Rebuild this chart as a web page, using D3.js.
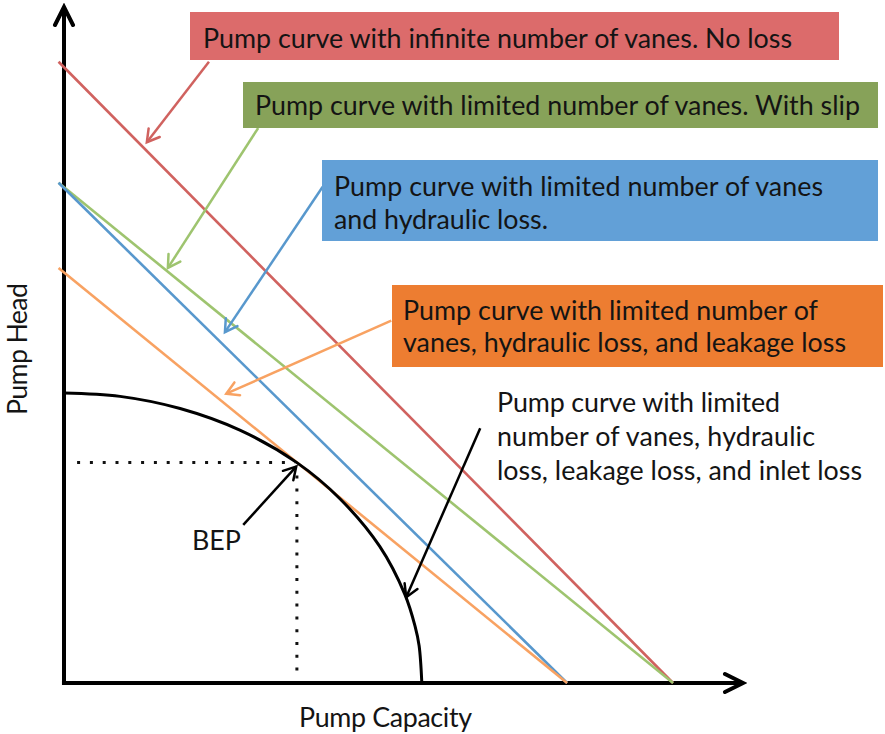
<!DOCTYPE html>
<html>
<head>
<meta charset="utf-8">
<script src="https://cdn.jsdelivr.net/npm/d3@7"></script>
<style>
  html, body { margin: 0; padding: 0; background: #fff; }
  svg { display: block; font-family: Lato, "Open Sans", sans-serif; }
  .lbl { font-size: 21.5px; font-weight: 400; fill: #141414; }
</style>
</head>
<body>
<div id="chart"></div>
<script>
// ── Data (chart units: capacity 0–100 across, head 0–100 up) ─────────────────
const noLossCurve    = [[-0.8, 91.9], [89.7, 0]];
const slipCurve      = [[-0.8, 74.0], [89.7, 0]];
const hydraulicCurve = [[-0.8, 74.0], [74.1, 0]];
const leakageCurve   = [[-0.8, 61.4], [74.1, 0]];
const inletCurve = [
  [0, 42.9], [8.25, 42.4], [17.1, 40.6], [25.9, 37.4], [34.3, 32.6],
  [40.6, 27.3], [46.5, 20.2], [50.2, 13.1], [51.7, 8.4], [52.3, 5.5], [52.7, 0]
];
const bepPoint = [34.3, 32.6];

const noLossText    = ['Pump curve with infinite number of vanes. No loss'];
const slipText      = ['Pump curve with limited number of vanes. With slip'];
const hydraulicText = ['Pump curve with limited number of vanes', 'and hydraulic loss.'];
const leakageText   = ['Pump curve with limited number of', 'vanes, hydraulic loss, and leakage loss'];
const inletText     = ['Pump curve with limited', 'number of vanes, hydraulic', 'loss, leakage loss, and inlet loss'];
const xTitle = 'Pump Capacity';
const yTitle = 'Pump Head';
const bepText = 'BEP';

// arrow tail → head, in chart units
const noLossArrow    = [[21.35, 91.9], [12.2, 80.0]];
const slipArrow      = [[28.6, 82.1], [15.3, 61.4]];
const hydraulicArrow = [[38.1, 73.4], [23.7, 51.9]];
const leakageArrow   = [[48.2, 53.6], [23.9, 42.8]];
const inletArrow     = [[61.3, 37.7], [50.4, 12.7]];
const bepArrow       = [[26.4, 23.4], [34.2, 32.0]];

(() => {
  const W = 885, H = 734;
  const x = d3.scaleLinear().domain([0, 100]).range([64, 743]);
  const y = d3.scaleLinear().domain([0, 100]).range([683, 7]);

  const svg = d3.select('#chart').append('svg').attr('width', W).attr('height', H);
  const defs = svg.append('defs');

  // ── Open chevron arrowheads ────────────────────────────────────────
  function marker(id, color, len, half, sw) {
    defs.append('marker')
      .attr('id', id)
      .attr('markerUnits', 'userSpaceOnUse')
      .attr('viewBox', `${-len - 4} ${-half - 4} ${len + 8} ${2 * half + 8}`)
      .attr('markerWidth', len + 8).attr('markerHeight', 2 * half + 8)
      .attr('refX', 0).attr('refY', 0)
      .attr('orient', 'auto')
      .append('path')
        .attr('d', `M${-len},${-half}L0,0L${-len},${half}`)
        .attr('fill', 'none').attr('stroke', color)
        .attr('stroke-width', sw).attr('stroke-linecap', 'round');
  }

  const series = [
    { pts: noLossCurve,    line: '#d0625f', box: '#dc6b6b', arrow: noLossArrow },
    { pts: slipCurve,      line: '#9ec46f', box: '#87a259', arrow: slipArrow },
    { pts: hydraulicCurve, line: '#5898cd', box: '#62a0d7', arrow: hydraulicArrow },
    { pts: leakageCurve,   line: '#f8a262', box: '#ed7d31', arrow: leakageArrow }
  ];
  series.forEach((s, i) => marker('m' + i, s.line, 12, 7, 2.5));
  marker('mk', '#000', 12, 7, 2.5);
  marker('maxis', '#000', 18, 9, 4);

  // ── Axes (no ticks, just arrowed spines) ───────────────────────────
  svg.append('g').attr('transform', `translate(0,${y(0)})`)
    .call(d3.axisBottom(x).tickValues([]).tickSizeOuter(0))
    .call(g => g.select('.domain')
      .attr('d', `M${x(-0.3)},0H${x(100)}`)
      .attr('stroke-width', 4).attr('marker-end', 'url(#maxis)'));
  svg.append('g').attr('transform', `translate(${x(0)},0)`)
    .call(d3.axisLeft(y).tickValues([]).tickSizeOuter(0))
    .call(g => g.select('.domain')
      .attr('d', `M0,${y(-0.3)}V${y(100)}`)
      .attr('stroke-width', 4).attr('marker-end', 'url(#maxis)'));

  // ── BEP guide dots ──────────────────────────────────────────────────
  svg.append('line')
    .attr('x1', x(bepPoint[0]) - 2).attr('y1', y(bepPoint[1]))
    .attr('x2', x(1.9)).attr('y2', y(bepPoint[1]))
    .attr('stroke', '#111').attr('stroke-width', 3)
    .attr('stroke-dasharray', '3 9.8').attr('stroke-dashoffset', -10);
  svg.append('line')
    .attr('x1', x(bepPoint[0])).attr('y1', y(bepPoint[1]) + 3)
    .attr('x2', x(bepPoint[0])).attr('y2', y(1.5))
    .attr('stroke', '#111').attr('stroke-width', 3)
    .attr('stroke-dasharray', '3 9.8').attr('stroke-dashoffset', -10);

  // ── Pump curves ─────────────────────────────────────────────────────
  const line = d3.line().x(d => x(d[0])).y(d => y(d[1]));
  series.forEach(s => {
    svg.append('path').attr('d', line(s.pts))
      .attr('fill', 'none').attr('stroke', s.line).attr('stroke-width', 2.6);
  });
  svg.append('path')
    .attr('d', line.curve(d3.curveCatmullRom.alpha(0.5))(inletCurve))
    .attr('fill', 'none').attr('stroke', '#000').attr('stroke-width', 3);

  // ── Annotation boxes + text ─────────────────────────────────────────
  // box: [x, y, w, h]; rows: [x, baseline, width]
  const layout = [
    { box: [190, 12, 649, 48],  rows: [[203, 48, 589]] },
    { box: [243, 82, 635, 46],  rows: [[255, 115, 605]] },
    { box: [322, 160, 556, 81], rows: [[334, 196, 489], [334, 229, 214]] },
    { box: [392, 285, 491, 82], rows: [[403, 320, 415], [403, 352, 443]] }
  ];
  const texts = [noLossText, slipText, hydraulicText, leakageText];

  const labels = [];
  function label(str, px, py, width) {
    const t = svg.append('text').attr('class', 'lbl')
      .attr('x', px).attr('y', py)
      .text(str);
    labels.push({ t, width });
    return t;
  }

  series.forEach((s, i) => {
    const L = layout[i];
    svg.append('path').attr('d', line.curve(d3.curveLinear)(s.arrow))
      .attr('fill', 'none').attr('stroke', s.line).attr('stroke-width', 2.5)
      .attr('marker-end', `url(#m${i})`);
    svg.append('rect')
      .attr('x', L.box[0]).attr('y', L.box[1])
      .attr('width', L.box[2]).attr('height', L.box[3])
      .attr('fill', s.box);
    texts[i].forEach((t, j) => label(t, ...L.rows[j]));
  });

  // inlet-loss label (no box)
  const inletRows = [[497, 412, 283], [497, 446, 318], [497, 480, 365]];
  inletText.forEach((t, j) => label(t, ...inletRows[j]));
  svg.append('path').attr('d', line(inletArrow))
    .attr('fill', 'none').attr('stroke', '#000').attr('stroke-width', 2.5)
    .attr('marker-end', 'url(#mk)');

  // BEP (short word: no width fit)
  label(bepText, 192, 550, null);
  svg.append('path').attr('d', line(bepArrow))
    .attr('fill', 'none').attr('stroke', '#000').attr('stroke-width', 2.5)
    .attr('marker-end', 'url(#mk)');

  // ── Axis titles ─────────────────────────────────────────────────────
  label(xTitle, 299, 727, 173);
  label(yTitle, 0, 0, 132)
    .attr('transform', 'translate(27,415) rotate(-90)');

  // ── Fit text: one shared size from the median width ratio, then
  //    a small spacing tweak per line so ends line up.
  const base = 21.5;
  const fitted = labels.filter(l => l.width);
  const ratios = fitted.map(l => l.width / l.t.node().getComputedTextLength());
  const fs = base * d3.median(ratios);
  labels.forEach(l => l.t.style('font-size', fs + 'px'));
  fitted.forEach(l => l.t.attr('textLength', l.width).attr('lengthAdjust', 'spacing'));
})();
</script>
</body>
</html>
